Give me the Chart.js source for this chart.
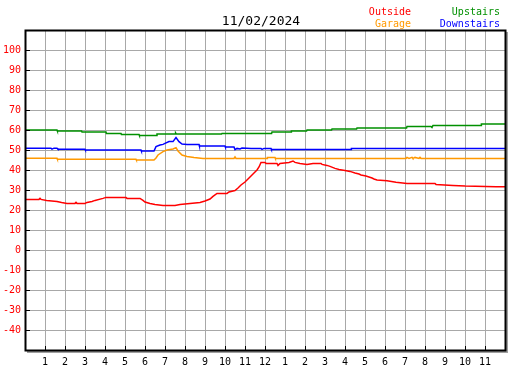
<!DOCTYPE html>
<html>
<head>
<meta charset="utf-8">
<script src="https://cdn.jsdelivr.net/npm/chart.js@4.4.0/dist/chart.umd.min.js"></script>
<style>
html, body { margin: 0; padding: 0; background: #fff; }
</style>
</head>
<body>
<canvas id="chart" width="527" height="370"></canvas>
<script>
const chartDate = '11/02/2024';

// x axis: hours of the day 0..24, labels on the hour
const hourLabels = ['', '1', '2', '3', '4', '5', '6', '7', '8', '9', '10', '11', '12',
    '1', '2', '3', '4', '5', '6', '7', '8', '9', '10', '11', ''];
const tempTicks = [-40, -30, -20, -10, 0, 10, 20, 30, 40, 50, 60, 70, 80, 90, 100];

const outsideHours = [0, 0.7, 0.75, 0.8, 1.08, 1.6, 1.83, 2.1, 2.5, 2.55, 2.6, 3.0, 3.1, 3.35, 3.5, 3.9, 4.05,
    5.05, 5.1, 5.75, 5.9, 6.0, 6.25, 6.5, 6.9, 7.5, 7.75, 8.25, 8.75, 9.0, 9.25, 9.4, 9.6, 10.1, 10.2, 10.5,
    10.65, 10.8, 11.0, 11.15, 11.3, 11.45, 11.6, 11.7, 11.8, 12.0, 12.05, 12.6, 12.65, 12.75, 13.2, 13.4, 13.5,
    13.75, 14.1, 14.4, 14.8, 14.85, 15.1, 15.25, 15.5, 15.7, 16.0, 16.25, 16.5, 16.7, 16.8, 17.05, 17.2, 17.35,
    17.45, 17.6, 18.1, 18.55, 19.1, 20.5, 20.55, 21.4, 22.0, 23.55, 24];
const outsideTemps = [25.3, 25.3, 25.8, 25.3, 24.8, 24.3, 23.8, 23.3, 23.3, 23.8, 23.3, 23.3, 23.8, 24.3, 24.8, 25.8, 26.3,
    26.3, 25.8, 25.8, 24.8, 24.0, 23.3, 22.8, 22.3, 22.3, 22.8, 23.3, 23.8, 24.5, 25.5, 26.8, 28.3, 28.3, 29.0, 29.7,
    31.0, 32.5, 34.0, 35.5, 37.0, 38.5, 40.0, 41.5, 43.8, 43.8, 43.3, 43.3, 42.3, 43.3, 43.8, 44.5, 43.8,
    43.3, 42.8, 43.3, 43.3, 42.8, 42.3, 41.8, 40.8, 40.3, 39.8, 39.3, 38.5, 38.0, 37.5, 37.0, 36.5, 36.0,
    35.5, 35.0, 34.6, 33.9, 33.3, 33.3, 32.8, 32.3, 32.0, 31.6, 31.6];

const garageHours = [0, 0.05, 1.6, 1.62, 5.55, 5.57, 6.45, 6.55, 6.65, 6.9, 7.1, 7.4, 7.55, 7.65, 7.85, 8.1, 8.45, 8.9,
    10.45, 10.5, 10.55, 12.1, 12.12, 12.5, 12.52, 19.05, 19.1, 19.2, 19.35, 19.4, 19.5, 19.7, 19.75, 19.8, 24];
const garageTemps = [46.5, 45.9, 45.9, 45.4, 45.4, 45.0, 45.0, 46.0, 47.5, 49.2, 50.0, 50.5, 51.2, 49.5, 47.5, 46.8, 46.2, 45.8,
    45.8, 46.6, 45.8, 45.8, 46.3, 46.3, 45.8, 45.8, 46.3, 45.8, 46.3, 45.8, 46.3, 45.8, 46.3, 45.8, 45.8];

const downstairsHours = [0, 1.3, 1.35, 1.45, 1.6, 1.65, 3.0, 3.02, 5.8, 5.82, 6.45, 6.55, 6.75, 6.9, 7.0, 7.2, 7.4, 7.55,
    7.7, 7.85, 8.1, 8.7, 8.72, 10.0, 10.02, 10.45, 10.5, 10.6, 10.75, 10.85, 11.3, 11.8, 11.85, 11.95, 12.3, 12.32,
    16.3, 16.32, 24];
const downstairsTemps = [50.9, 50.9, 50.4, 50.9, 50.9, 50.4, 50.4, 50.0, 50.0, 49.5, 49.5, 51.7, 52.5, 52.8, 53.3, 54.2, 54.2, 56.2,
    54.2, 53.0, 52.8, 52.8, 52.0, 52.0, 51.5, 51.5, 50.2, 50.8, 50.5, 51.0, 50.8, 50.8, 50.3, 50.8, 50.8, 50.3,
    50.3, 50.8, 50.8];

const upstairsHours = [0, 1.6, 1.62, 2.83, 2.85, 4.05, 4.07, 4.8, 4.82, 5.7, 5.72, 6.58, 6.6, 7.5, 7.53, 7.56, 9.83, 9.85,
    12.33, 12.35, 13.3, 13.32, 14.08, 14.1, 15.33, 15.35, 16.58, 16.6, 19.08, 19.1, 20.3, 20.35, 20.4, 22.8, 22.82, 24];
const upstairsTemps = [60.0, 60.0, 59.5, 59.5, 59.0, 59.0, 58.3, 58.3, 57.8, 57.8, 57.3, 57.3, 58.0, 58.0, 58.5, 58.0, 58.0, 58.3,
    58.3, 59.0, 59.0, 59.5, 59.5, 60.0, 60.0, 60.5, 60.5, 61.0, 61.0, 61.8, 61.8, 61.3, 62.3, 62.3, 63.0, 63.0];

function toPoints(hours, temps) {
    return hours.map((h, i) => ({ x: h, y: temps[i] }));
}

const monoFont = 'DejaVu Sans Mono';

// frame, inner tick marks, title and the two-column legend
const framePlugin = {
    id: 'frame',
    afterDraw(chart) {
        const ctx = chart.ctx;
        const a = chart.chartArea;
        const xs = chart.scales.x;
        const ys = chart.scales.y;
        ctx.save();

        // shadow on right and bottom
        ctx.fillStyle = '#a0a0a0';
        ctx.fillRect(a.right + 1, a.top + 2, 2, a.bottom - a.top + 1);
        ctx.fillRect(a.left + 2, a.bottom + 1, a.right - a.left + 1, 2);

        ctx.strokeStyle = '#000';
        ctx.lineWidth = 2;
        ctx.strokeRect(a.left + 0.5, a.top + 0.5, a.right - a.left, a.bottom - a.top);

        ctx.lineWidth = 1;
        ctx.beginPath();
        tempTicks.forEach(v => {
            const y = Math.round(ys.getPixelForValue(v)) + 0.5;
            ctx.moveTo(a.left, y);
            ctx.lineTo(a.left + 5, y);
        });
        for (let h = 1; h < 24; h++) {
            const x = Math.round(xs.getPixelForValue(h)) + 0.5;
            ctx.moveTo(x, a.bottom);
            ctx.lineTo(x, a.bottom - 4);
        }
        ctx.stroke();

        ctx.font = '13px "' + monoFont + '"';
        ctx.fillStyle = '#000';
        ctx.textAlign = 'center';
        ctx.textBaseline = 'alphabetic';
        ctx.fillText(chartDate, 261, 25);

        ctx.font = '10px "' + monoFont + '"';
        ctx.textAlign = 'right';
        const slots = [[411, 15], [411, 27], [500, 27], [500, 15]];
        chart.data.datasets.forEach((ds, i) => {
            ctx.fillStyle = ds.borderColor;
            ctx.fillText(ds.label, slots[i][0], slots[i][1]);
        });
        ctx.restore();
    }
};

new Chart(document.getElementById('chart'), {
    type: 'line',
    data: {
        datasets: [
            { label: 'Outside', data: toPoints(outsideHours, outsideTemps), borderColor: '#ff0000' },
            { label: 'Garage', data: toPoints(garageHours, garageTemps), borderColor: '#ff9900' },
            { label: 'Downstairs', data: toPoints(downstairsHours, downstairsTemps), borderColor: '#0000ff' },
            { label: 'Upstairs', data: toPoints(upstairsHours, upstairsTemps), borderColor: '#009000' }
        ]
    },
    options: {
        responsive: false,
        animation: false,
        layout: { padding: { left: 0, top: 30, right: 22, bottom: 0 } },
        elements: {
            point: { radius: 0 },
            line: { borderWidth: 1.5, tension: 0 }
        },
        plugins: {
            legend: { display: false },
            title: { display: false },
            tooltip: { enabled: false }
        },
        scales: {
            x: {
                type: 'linear',
                min: 0,
                max: 24,
                afterFit(scale) { scale.height = 20; },
                grid: { color: '#a8a8a8', lineWidth: 1, drawTicks: false },
                border: { display: false },
                ticks: {
                    stepSize: 1,
                    autoSkip: false,
                    maxRotation: 0,
                    padding: 6,
                    color: '#000',
                    font: { family: monoFont, size: 10 },
                    callback: v => hourLabels[v]
                }
            },
            y: {
                min: -50,
                max: 110,
                afterFit(scale) { scale.width = 25; },
                grid: { color: '#a8a8a8', lineWidth: 1, drawTicks: false },
                border: { display: false },
                ticks: {
                    stepSize: 10,
                    padding: 4,
                    color: '#ff0000',
                    font: { family: monoFont, size: 10 },
                    callback: v => tempTicks.includes(v) ? String(v) : ''
                }
            }
        }
    },
    plugins: [framePlugin]
});
</script>
</body>
</html>
